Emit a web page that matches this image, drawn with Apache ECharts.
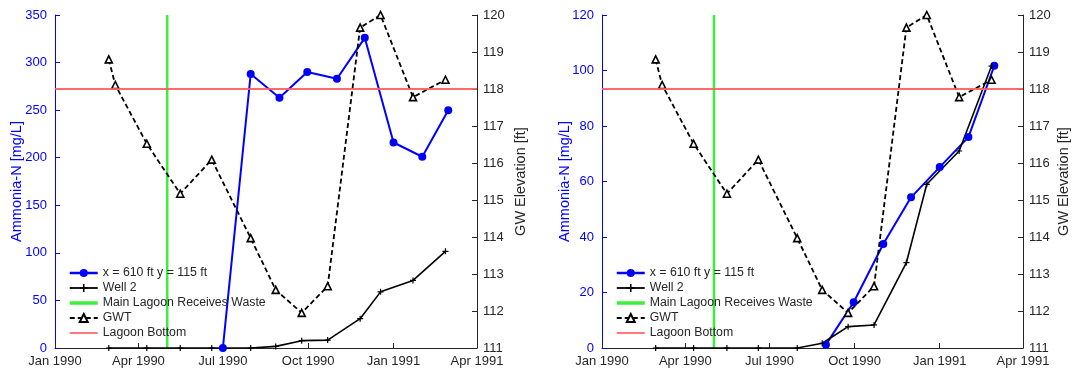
<!DOCTYPE html>
<html><head><meta charset="utf-8">
<script src="https://cdn.jsdelivr.net/npm/echarts@6/dist/echarts.min.js"></script>
<style>html,body{margin:0;padding:0;background:#fff}#c{width:1073px;height:371px}</style>
</head><body><div id="c"></div>
<script>
// ---- data ----
const xTickDates = ['1990-01-01','1990-04-01','1990-07-01','1990-10-01','1991-01-01','1991-04-01'];
const xTickLabels = ['Jan 1990','Apr 1990','Jul 1990','Oct 1990','Jan 1991','Apr 1991'];
const leftYTicks = [0,50,100,150,200,250,300,350];
const rightPanelYTicks = [0,20,40,60,80,100,120];
const gwtTicks = [111,112,113,114,115,116,117,118,119,120];

const leftAmmoniaDates  = ['1990-07-01','1990-07-31','1990-08-31','1990-09-30','1990-11-01','1990-12-01','1991-01-01','1991-02-01','1991-03-01'];
const leftAmmoniaValues = [0, 288, 263, 290, 283, 326, 216, 201, 250];

const rightAmmoniaDates  = ['1990-08-31','1990-09-30','1990-11-01','1990-12-01','1991-01-01','1991-02-01','1991-03-01'];
const rightAmmoniaValues = [1.2, 16.5, 37.5, 54.3, 65.2, 76, 101.7];

const well2Dates  = ['1990-02-28','1990-04-10','1990-05-16','1990-06-19','1990-07-31','1990-08-27','1990-09-24','1990-10-22','1990-11-26','1990-12-18','1991-01-22','1991-02-26'];
const well2Values = [0, 0, 0, 0, 0, 1.7, 7.7, 8.3, 30.8, 59, 71, 101.6];

const gwtDates  = ['1990-02-28','1990-03-07','1990-04-10','1990-05-16','1990-06-19','1990-07-31','1990-08-27','1990-09-24','1990-10-22','1990-11-26','1990-12-18','1991-01-22','1991-02-26'];
const gwtValues = [118.80, 118.11, 116.52, 115.17, 116.09, 113.97, 112.57, 111.95, 112.67, 119.66, 120.0, 117.78, 118.25];

const lagoonWasteDate = '1990-05-02';
const lagoonBottomElev = 118;

const seriesNames = ['x = 610 ft y = 115 ft','Well 2','Main Lagoon Receives Waste','GWT','Lagoon Bottom'];

// ---- helpers ----
function t(s){const p=s.split('-').map(Number);return Date.UTC(p[0],p[1]-1,p[2]);}
function pairs(d,v){return d.map((x,i)=>[t(x),v[i]]);}
const tickTs = xTickDates.map(t);
const xMin = tickTs[0], xMax = tickTs[tickTs.length-1];
const FONT = '"Liberation Sans", Arial, Helvetica, sans-serif';
const TXT = '#262626';
const BLUE = '#0000ff';
const GREEN = '#3dee3d';
const RED = '#ff5a5a';
const plusPath = 'path://M4,0H6V4H10V6H6V10H4V6H0V4H4Z';

function xAxisFor(gi){
  return {
    type:'value', gridIndex:gi, min:xMin, max:xMax,
    axisLine:{show:true,onZero:false,lineStyle:{color:TXT,width:1}},
    axisTick:{show:true,inside:true,length:5,customValues:tickTs,lineStyle:{color:TXT}},
    axisLabel:{customValues:tickTs,color:TXT,fontSize:13,fontFamily:FONT,margin:7,
      formatter:(v)=>{const i=tickTs.indexOf(v);return i>=0?xTickLabels[i]:'';}},
    splitLine:{show:false}
  };
}
function yLeftFor(gi,ticks,gap){
  return {
    type:'value', gridIndex:gi, position:'left', min:ticks[0], max:ticks[ticks.length-1], interval:ticks[1]-ticks[0],
    name:'Ammonia-N [mg/L]', nameLocation:'middle', nameGap:gap, nameMoveOverlap:false,
    nameTextStyle:{color:BLUE,fontSize:14.5,fontFamily:FONT},
    axisLine:{show:true,lineStyle:{color:BLUE,width:1}},
    axisTick:{show:true,inside:true,length:5,lineStyle:{color:BLUE}},
    axisLabel:{color:BLUE,fontSize:13,fontFamily:FONT,margin:8},
    splitLine:{show:false}
  };
}
function yRightFor(gi,gap){
  return {
    type:'value', gridIndex:gi, position:'right', min:gwtTicks[0], max:gwtTicks[gwtTicks.length-1], interval:1,
    name:'GW Elevation [ft]', nameLocation:'middle', nameGap:gap, nameMoveOverlap:false,
    nameTextStyle:{color:TXT,fontSize:14.5,fontFamily:FONT},
    axisLine:{show:true,lineStyle:{color:TXT,width:1}},
    axisTick:{show:true,inside:true,length:5,lineStyle:{color:TXT}},
    axisLabel:{color:TXT,fontSize:13,fontFamily:FONT,margin:6},
    splitLine:{show:false}
  };
}
function panelSeries(gi, ammoniaData, yMax){
  const yl = gi*2, yr = gi*2+1;
  return [
    {name:seriesNames[0],type:'line',xAxisIndex:gi,yAxisIndex:yl,data:ammoniaData,
     symbol:'circle',symbolSize:8,lineStyle:{color:BLUE,width:2},itemStyle:{color:BLUE},z:3},
    {name:seriesNames[1],type:'line',xAxisIndex:gi,yAxisIndex:yl,data:pairs(well2Dates,well2Values),
     symbol:plusPath,symbolSize:6,lineStyle:{color:'#000',width:1.6},itemStyle:{color:'#000'},z:3},
    {name:seriesNames[2],type:'line',xAxisIndex:gi,yAxisIndex:yl,
     data:[[t(lagoonWasteDate),0],[t(lagoonWasteDate),yMax]],
     symbol:'none',lineStyle:{color:GREEN,width:2.5},itemStyle:{color:GREEN},z:2},
    {name:seriesNames[3],type:'line',xAxisIndex:gi,yAxisIndex:yr,data:pairs(gwtDates,gwtValues),
     symbol:'triangle',symbolSize:7,lineStyle:{color:'#000',width:1.8,type:[5,3]},
     itemStyle:{color:'#fff',borderColor:'#000',borderWidth:1.6},z:4},
    {name:seriesNames[4],type:'line',xAxisIndex:gi,yAxisIndex:yr,
     data:[[xMin,lagoonBottomElev],[xMax,lagoonBottomElev]],
     symbol:'none',lineStyle:{color:RED,width:1.8,opacity:0.9},itemStyle:{color:RED},z:5}
  ];
}
function legendFor(left){
  return {
    data:[
      {name:seriesNames[0],lineStyle:{width:2.5}},
      {name:seriesNames[1],lineStyle:{width:1.8}},
      {name:seriesNames[2],itemStyle:{opacity:0},lineStyle:{width:3.5}},
      {name:seriesNames[3],lineStyle:{width:2}},
      {name:seriesNames[4],itemStyle:{opacity:0},lineStyle:{width:1.8}}
    ],
    orient:'vertical',left:left,top:267,itemWidth:28,itemHeight:10,itemGap:3,
    padding:0,selectedMode:false,textStyle:{color:TXT,fontSize:12.3,fontFamily:FONT}};
}

const chart = echarts.init(document.getElementById('c'),null,{renderer:'canvas'});
chart.setOption({
  animation:false,
  backgroundColor:'#fff',
  grid:[
    {left:55,right:596,top:15,bottom:23,containLabel:false},
    {left:602,right:50,top:15,bottom:23,containLabel:false}
  ],
  legend:[legendFor(68),legendFor(615)],
  xAxis:[xAxisFor(0),xAxisFor(1)],
  yAxis:[yLeftFor(0,leftYTicks,30.5),yRightFor(0,36.5),yLeftFor(1,rightPanelYTicks,29.5),yRightFor(1,33.5)],
  series:[].concat(
    panelSeries(0,pairs(leftAmmoniaDates,leftAmmoniaValues),leftYTicks[leftYTicks.length-1]),
    panelSeries(1,pairs(rightAmmoniaDates,rightAmmoniaValues),rightPanelYTicks[rightPanelYTicks.length-1])
  )
});
</script></body></html>
